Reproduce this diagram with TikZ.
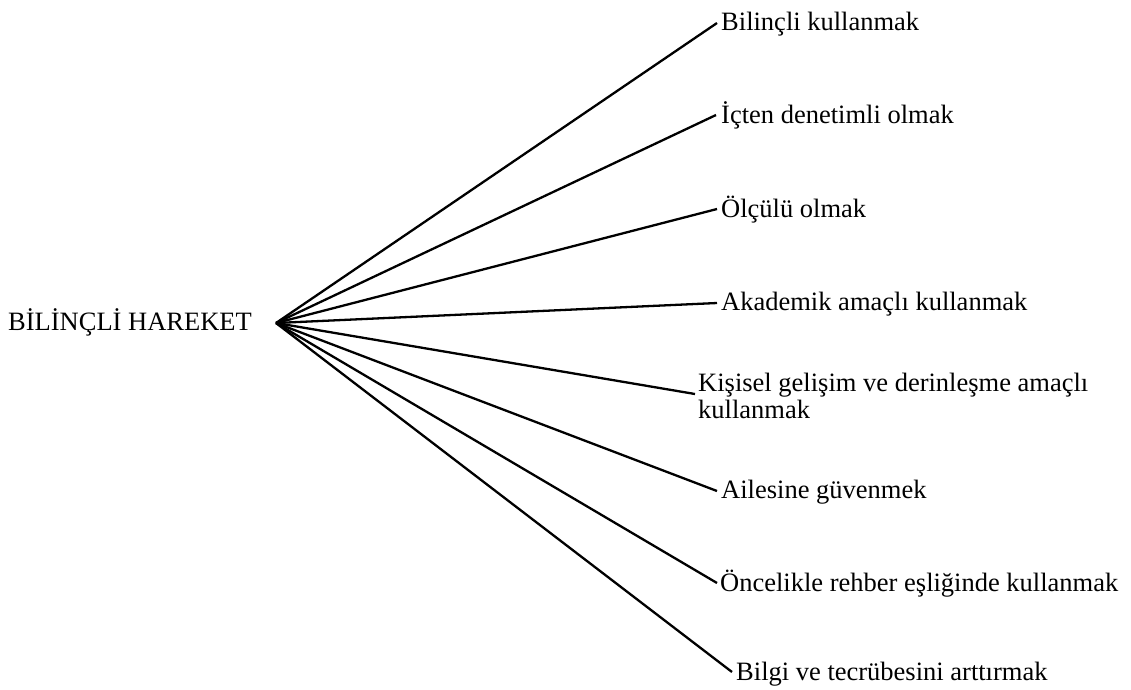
\documentclass[tikz,border=0pt]{standalone}
\usepackage{fontspec}
\setmainfont{Liberation Serif}
\begin{document}
\begin{tikzpicture}[x=1pt,y=-1pt,
  lbl/.style={anchor=base west,inner sep=0pt,font=\fontsize{26.5}{26.5}\selectfont,align=left},
  spoke/.style={line width=2.3pt,black}]
\useasboundingbox (0,0) rectangle (1131,689);
% central concept and the point where all spokes meet
\node[lbl] (root) at (8,330) {BİLİNÇLİ HAREKET};
\coordinate (hub) at (276,323);
% branch labels (the two-line one is anchored on its last baseline)
\node[lbl] (b1) at (721,30)  {Bilinçli kullanmak};
\node[lbl] (b2) at (721,123) {İçten denetimli olmak};
\node[lbl] (b3) at (721,217) {Ölçülü olmak};
\node[lbl] (b4) at (721,310) {Akademik amaçlı kullanmak};
\node[lbl] (b5) at (698,418) {Kişisel gelişim ve derinleşme amaçlı\\kullanmak};
\node[lbl] (b6) at (721,498) {Ailesine güvenmek};
\node[lbl] (b7) at (720,591) {Öncelikle rehber eşliğinde kullanmak};
\node[lbl] (b8) at (736,680) {Bilgi ve tecrübesini arttırmak};
% ends of the spokes, just left of each label
\coordinate (e1) at (717,23);
\coordinate (e2) at (716,115);
\coordinate (e3) at (717,209);
\coordinate (e4) at (717,303);
\coordinate (e5) at (695,394);
\coordinate (e6) at (717,491);
\coordinate (e7) at (717,583);
\coordinate (e8) at (732,672);
\foreach \i in {1,...,8} \draw[spoke] (hub) -- (e\i);
\end{tikzpicture}
\end{document}
